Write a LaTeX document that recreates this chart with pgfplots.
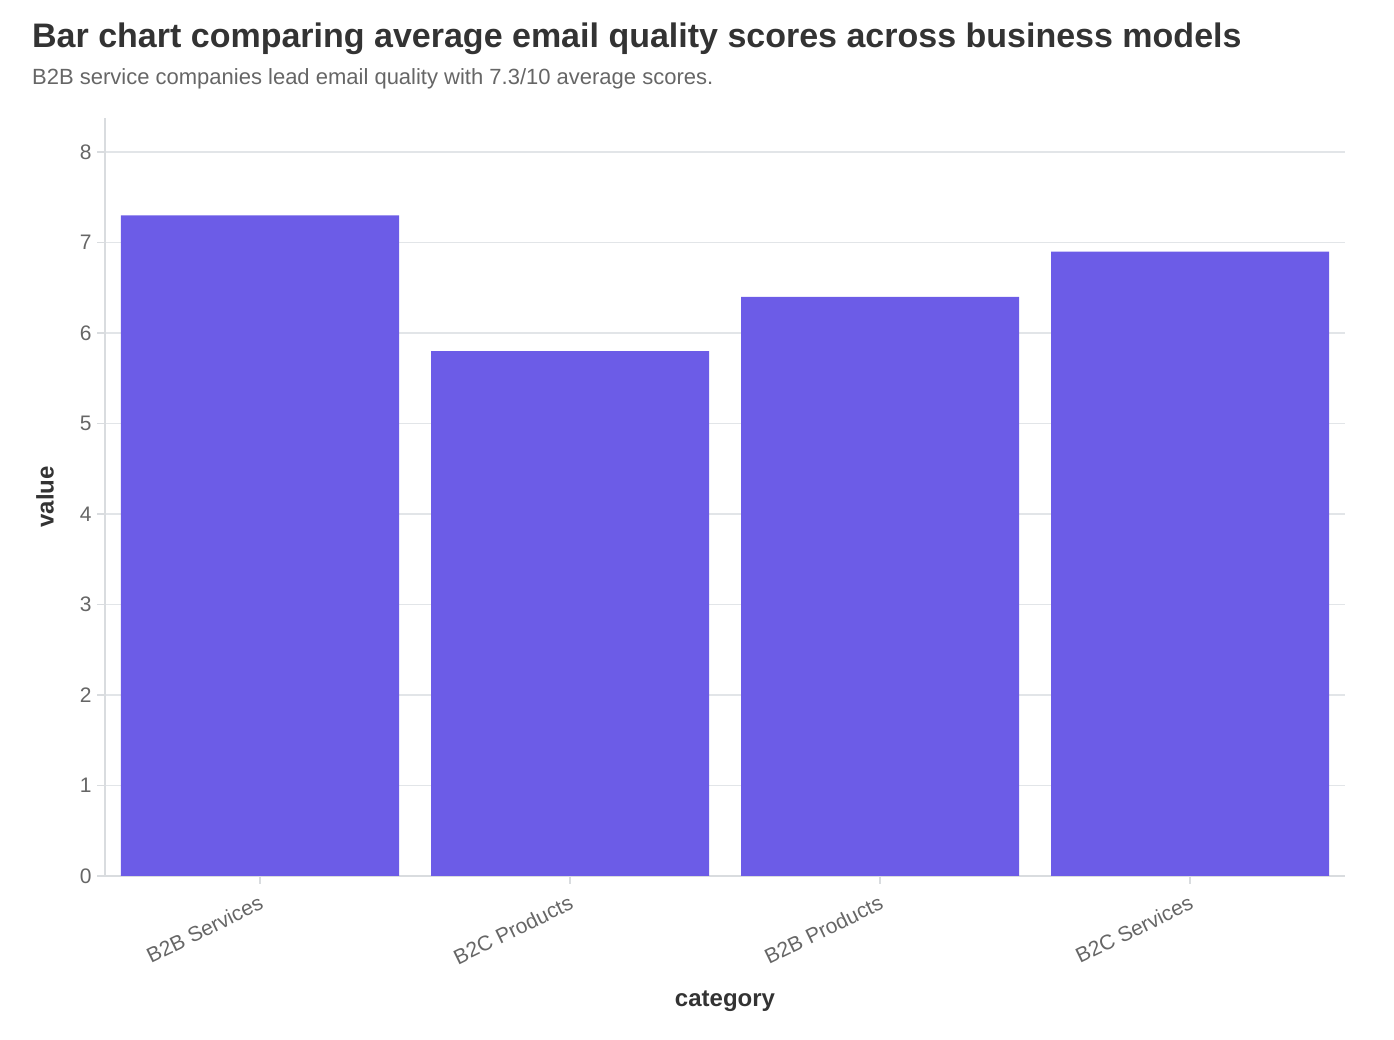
\documentclass[border=0pt]{standalone}
\usepackage{fontspec}
\setmainfont{Liberation Sans}
\usepackage{pgfplots}
\pgfplotsset{compat=1.18}

\definecolor{barcol}{HTML}{6C5CE7}
\definecolor{titlecol}{HTML}{333333}
\definecolor{subcol}{HTML}{666666}
\definecolor{tickcol}{HTML}{666666}
\definecolor{gridcol}{HTML}{E2E5E8}
\definecolor{axiscol}{HTML}{D9DCDF}

\begin{document}
\begin{tikzpicture}[x=1pt,y=1pt]
\useasboundingbox (0,0) rectangle (1394,1040);

\node[anchor=base west, inner sep=0, text=titlecol,
      font=\fontsize{34}{40}\selectfont\bfseries] at (32,992)
  {Bar chart comparing average email quality scores across business models};
\node[anchor=base west, inner sep=0, text=subcol,
      font=\fontsize{22}{26}\selectfont] at (32,955)
  {B2B service companies lead email quality with 7.3/10 average scores.};

\begin{axis}[
    at={(105pt,164pt)}, anchor=south west,
    scale only axis,
    width=1240pt, height=758pt,
    ybar,
    bar width=278pt,
    xmin=-0.5, xmax=3.5,
    ymin=0, ymax=8.376,
    xtick=data,
    xticklabels={B2B Services, B2C Products, B2B Products, B2C Services},
    ytick={0,1,2,3,4,5,6,7,8},
    axis lines=left,
    axis line style={-, draw=axiscol, line width=1.5pt},
    tick style={draw=axiscol, line width=1.5pt},
    major tick length=8pt,
    tick align=outside,
    ymajorgrids=true,
    grid style={draw=gridcol, line width=1.3pt},
    /pgf/number format/assume math mode=true,
    ticklabel style={font=\fontsize{21}{25}\selectfont, text=tickcol},
    yticklabel style={xshift=-2pt},
    xticklabel style={rotate=26, anchor=north east, xshift=-3pt, yshift=-5pt},
    xlabel={category},
    ylabel={value},
    label style={font=\fontsize{24}{28}\selectfont\bfseries, text=titlecol},
    xlabel style={at={(axis description cs:0.5,-0.165)}, anchor=center},
    ylabel style={at={(axis description cs:-0.0484,0.5)}, anchor=center, rotate=0},
]
\addplot[fill=barcol, draw=none] coordinates {
    (0,7.3) (1,5.8) (2,6.4) (3,6.9)
};
\end{axis}
\end{tikzpicture}
\end{document}
